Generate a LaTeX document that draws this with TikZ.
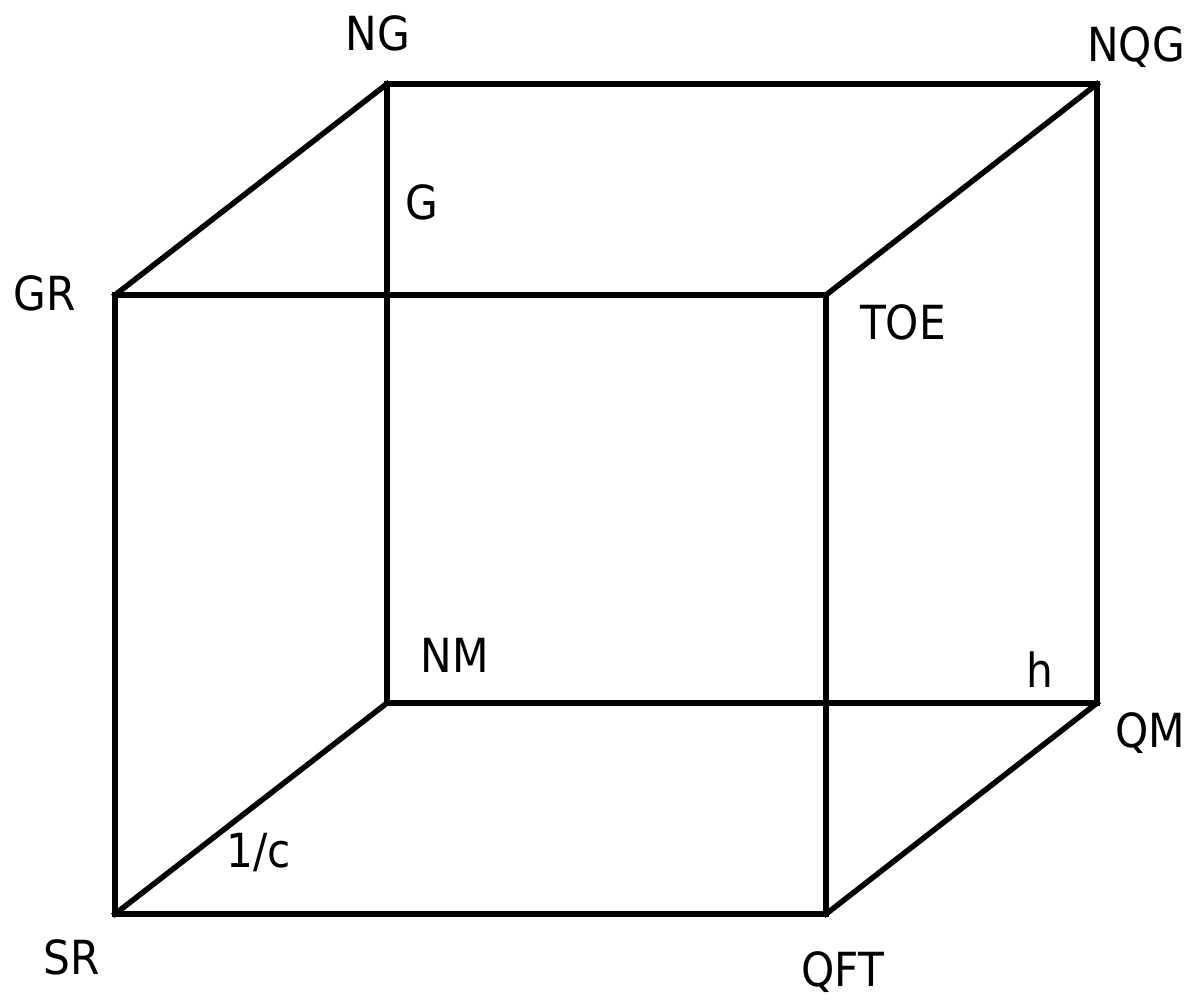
\documentclass[tikz,border=0pt]{standalone}
\usepackage{fontspec}
\setmainfont{DejaVu Sans}[FakeStretch=0.9]
\begin{document}
\begin{tikzpicture}[x=1pt,y=-1pt,
  edge/.style={line width=5.5pt,line cap=rect,line join=miter},
  lbl/.style={anchor=base,inner sep=0pt,font=\fontsize{47}{50}\selectfont}]
\useasboundingbox (0,0) rectangle (1191,999);
% vertices
\coordinate (ng) at (387,84);
\coordinate (nqg) at (1097,84);
\coordinate (gr) at (115,295);
\coordinate (toe) at (826,295);
\coordinate (nm) at (387,703);
\coordinate (qm) at (1097,703);
\coordinate (sr) at (115,914);
\coordinate (qft) at (826,914);
% edges
\draw[edge] (ng) -- (nqg) -- (qm) -- (nm) -- cycle;
\draw[edge] (gr) -- (toe) -- (qft) -- (sr) -- cycle;
\draw[edge] (ng) -- (gr);
\draw[edge] (nqg) -- (toe);
\draw[edge] (nm) -- (sr);
\draw[edge] (qm) -- (qft);
% labels
\node[lbl] (lng) at (378,50) {NG};
\node[lbl] (lnqg) at (1136,61) {NQG};
\node[lbl] (lg) at (422,219) {G};
\node[lbl] (lgr) at (45,310) {GR};
\node[lbl] (ltoe) at (903,339) {TOE};
\node[lbl] (lnm) at (455,672) {NM};
\node[lbl] (lh) at (1040,687) {h};
\node[lbl] (lqm) at (1150,747) {QM};
\node[lbl] (lc) at (259,867) {1/c};
\node[lbl] (lsr) at (72,974) {SR};
\node[lbl] (lqft) at (843,986) {QFT};
\end{tikzpicture}
\end{document}
